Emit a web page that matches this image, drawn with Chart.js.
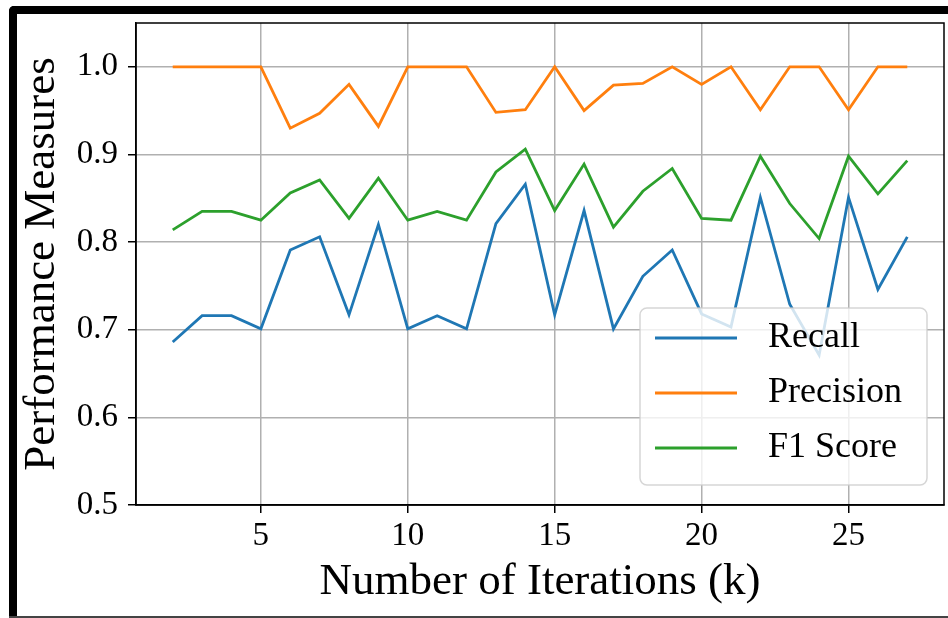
<!DOCTYPE html>
<html>
<head>
<meta charset="utf-8">
<script src="https://cdn.jsdelivr.net/npm/chart.js@4.4.1/dist/chart.umd.min.js"></script>
<style>
  body { margin: 0; background: #fff; }
  #wrap { position: relative; width: 948px; height: 618px; overflow: hidden; }
  .bar { position: absolute; background: #000; }
</style>
</head>
<body>
<div id="wrap">
  <canvas id="perfChart" width="948" height="618"></canvas>
  <div class="bar" style="left:9px; top:6px; width:939px; height:8px; border-top-left-radius:5px;"></div>
  <div class="bar" style="left:9px; top:6px; width:8px; height:612px; border-top-left-radius:5px;"></div>
  <div class="bar" style="left:9px; top:616px; width:939px; height:2px; background:#444;"></div>
</div>
<script>
const iterations = [2, 3, 4, 5, 6, 7, 8, 9, 10, 11, 12, 13, 14, 15, 16, 17, 18, 19, 20, 21, 22, 23, 24, 25, 26, 27];

const recall = [0.686, 0.716, 0.716, 0.701, 0.791, 0.806, 0.717, 0.820, 0.701, 0.716, 0.701, 0.821, 0.866,
                0.717, 0.836, 0.701, 0.761, 0.791, 0.718, 0.703, 0.851, 0.729, 0.671, 0.851, 0.746, 0.806];
const precision = [1.0, 1.0, 1.0, 1.0, 0.930, 0.947, 0.980, 0.932, 1.0, 1.0, 1.0, 0.948, 0.951,
                   1.0, 0.950, 0.979, 0.981, 1.0, 0.980, 1.0, 0.951, 1.0, 1.0, 0.951, 1.0, 1.0];
const f1score = [0.814, 0.835, 0.835, 0.825, 0.856, 0.871, 0.827, 0.873, 0.825, 0.835, 0.825, 0.880, 0.906,
                 0.836, 0.889, 0.817, 0.858, 0.884, 0.827, 0.825, 0.898, 0.844, 0.804, 0.898, 0.855, 0.893];

const seriesNames = ['Recall', 'Precision', 'F1 Score'];
const seriesColors = ['#1f77b4', '#ff7f0e', '#2ca02c'];
const seriesValues = [recall, precision, f1score];

const xTicks = [5, 10, 15, 20, 25];
const yTicks = [0.5, 0.6, 0.7, 0.8, 0.9, 1.0];

const serif = "'Liberation Serif', 'DejaVu Serif', serif";

// ramka osi (góra i prawa strona)
const boxPlugin = {
    id: 'axesBox',
    afterDraw(chart) {
        const { ctx, chartArea: a } = chart;
        ctx.save();
        ctx.strokeStyle = '#000';
        ctx.lineWidth = 1.5;
        ctx.strokeRect(a.left, a.top, a.right - a.left, a.bottom - a.top);
        ctx.restore();
    }
};

// legenda w prawym dolnym rogu, w stylu matplotlib
const legendPlugin = {
    id: 'innerLegend',
    afterDatasetsDraw(chart) {
        const { ctx, chartArea: a } = chart;
        const w = 287, h = 177;
        const x = a.right - 17 - w, y = a.bottom - 20 - h;
        ctx.save();
        ctx.beginPath();
        ctx.roundRect(x, y, w, h, 7);
        ctx.fillStyle = 'rgba(255,255,255,0.8)';
        ctx.fill();
        ctx.strokeStyle = 'rgba(204,204,204,0.8)';
        ctx.lineWidth = 1.5;
        ctx.stroke();
        ctx.font = '36px ' + serif;
        ctx.textBaseline = 'middle';
        chart.data.datasets.forEach((ds, i) => {
            const ly = y + 30 + i * 55;
            ctx.strokeStyle = ds.borderColor;
            ctx.lineWidth = 2.8;
            ctx.beginPath();
            ctx.moveTo(x + 15, ly);
            ctx.lineTo(x + 97, ly);
            ctx.stroke();
            ctx.fillStyle = '#000';
            ctx.fillText(ds.label, x + 128, ly);
        });
        ctx.restore();
    }
};

const ctx = document.getElementById('perfChart').getContext('2d');

new Chart(ctx, {
    type: 'line',
    data: {
        datasets: seriesNames.map((name, i) => ({
            label: name,
            data: iterations.map((it, j) => ({ x: it, y: seriesValues[i][j] })),
            borderColor: seriesColors[i],
            backgroundColor: seriesColors[i],
            borderWidth: 2.8,
            pointRadius: 0,
            tension: 0,
            fill: false
        }))
    },
    options: {
        responsive: false,
        devicePixelRatio: 1,
        animation: false,
        layout: { padding: { left: 0, right: 4, top: 23, bottom: 0 } },
        plugins: {
            legend: { display: false },
            tooltip: { enabled: false }
        },
        scales: {
            x: {
                type: 'linear',
                min: 0.75,
                max: 28.25,
                afterFit: s => { s.height = 113; s.paddingLeft = 0; s.paddingRight = 0; },
                afterBuildTicks: s => { s.ticks = xTicks.map(v => ({ value: v })); },
                ticks: {
                    color: '#000',
                    font: { family: serif, size: 33 },
                    padding: 4,
                    maxRotation: 0,
                    callback: v => String(v)
                },
                grid: { color: '#b0b0b0', lineWidth: 1.5, tickColor: '#000', tickLength: 8, tickWidth: 1.5 },
                border: { color: '#000', width: 1.5 },
                title: {
                    display: true,
                    text: 'Number of Iterations (k)',
                    color: '#000',
                    font: { family: serif, size: 45 },
                    padding: { top: 0, bottom: 9 }
                }
            },
            y: {
                min: 0.5,
                max: 1.05,
                afterFit: s => { s.width = 136; s.paddingTop = 0; s.paddingBottom = 0; },
                afterBuildTicks: s => { s.ticks = yTicks.map(v => ({ value: v })); },
                ticks: {
                    color: '#000',
                    font: { family: serif, size: 33 },
                    padding: 10,
                    callback: v => v.toFixed(1)
                },
                grid: { color: '#b0b0b0', lineWidth: 1.5, tickColor: '#000', tickLength: 8, tickWidth: 1.5 },
                border: { color: '#000', width: 1.5 },
                title: {
                    display: true,
                    text: 'Performance Measures',
                    color: '#000',
                    font: { family: serif, size: 45 },
                    padding: { top: 15, bottom: 0 }
                }
            }
        }
    },
    plugins: [boxPlugin, legendPlugin]
});
</script>
</body>
</html>
